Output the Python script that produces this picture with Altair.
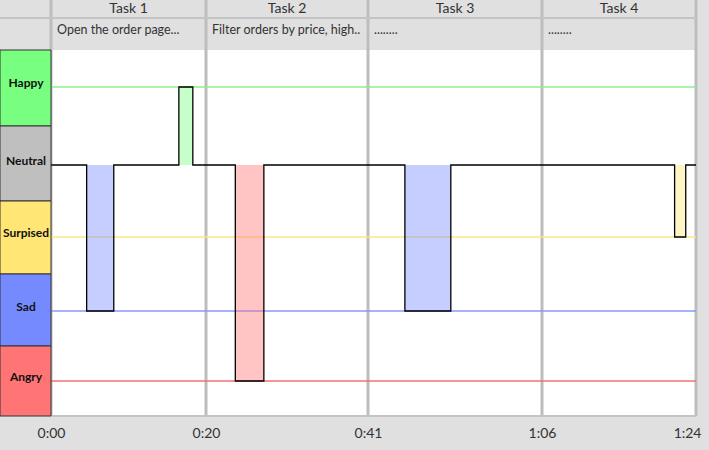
import altair as alt
import pandas as pd

# ---------------- data ----------------
task_names = ["Task 1", "Task 2", "Task 3", "Task 4"]
task_start = [0, 20, 41, 66]
task_end = [20, 41, 66, 84]
task_desc = ["Open the order page...", "Filter orders by price, high..", "........", "........"]

tick_seconds = [0, 20, 41, 66, 84]
tick_labels = ["0:00", "0:20", "0:41", "1:06", "1:24"]

emotions = ["Happy", "Neutral", "Surpised", "Sad", "Angry"]
emotion_level = [4, 3, 2, 1, 0]
emotion_color = ["#78ff80", "#bfbfbf", "#ffe675", "#758aff", "#ff7575"]
line_emotions = ["Happy", "Surpised", "Sad", "Angry"]
line_colors = ["#8ef08e", "#ffe680", "#8898ff", "#f07070"]

ep_emotion = ["Sad", "Happy", "Angry", "Sad", "Surpised"]
ep_start = [4.6, 16.5, 23.8, 46.3, 81.5]
ep_end = [8.1, 18.3, 27.5, 52.9, 82.8]

# ---------------- tables ----------------
lvl = dict(zip(emotions, emotion_level))
NEUTRAL = lvl["Neutral"]

tasks_df = pd.DataFrame({"task": task_names, "start": task_start, "end": task_end, "desc": task_desc})
tasks_df["mid"] = (tasks_df["start"] + tasks_df["end"]) / 2
bounds_df = pd.DataFrame({"t": tick_seconds})

emo_df = pd.DataFrame({"emotion": emotions, "level": emotion_level})
emo_df["lo"] = emo_df["level"] - 0.5
emo_df["hi"] = emo_df["level"] + 0.5

lines_df = pd.DataFrame({"emotion": line_emotions, "level": [lvl[e] for e in line_emotions],
                         "t0": tick_seconds[0], "t1": tick_seconds[-1]})

ep_df = pd.DataFrame({"emotion": ep_emotion, "start": ep_start, "end": ep_end})
ep_df["level"] = [lvl[e] for e in ep_emotion]
ep_df["base"] = NEUTRAL

pts = [(tick_seconds[0], NEUTRAL)]
for s, e, em in zip(ep_start, ep_end, ep_emotion):
    pts += [(s, NEUTRAL), (s, lvl[em]), (e, lvl[em]), (e, NEUTRAL)]
pts.append((tick_seconds[-1], NEUTRAL))
path_df = pd.DataFrame({"t": [p[0] for p in pts], "level": [p[1] for p in pts], "i": range(len(pts))})

# ---------------- scales ----------------
W, H = 645, 366
FONT = "Lato"
xscale = alt.Scale(domain=tick_seconds, range=[0, 155, 317, 491, 645])
yscale = alt.Scale(domain=[-0.5, 0, 1, 2, 3, 4, 4.5], range=[366, 331, 261, 187, 115, 37, 0])

label_expr = "".join(f"datum.value == {v} ? '{l}' : " for v, l in zip(tick_seconds, tick_labels)) + "''"
xaxis = alt.Axis(values=tick_seconds, labelExpr=label_expr, ticks=False, domain=False, grid=False,
                 labelFontSize=14, labelColor="#333333", labelPadding=10, labelFont=FONT, title=None,
                 labelAlign={"expr": f"datum.value == {tick_seconds[-1]} ? 'right' : 'center'"},
                 labelOffset={"expr": f"datum.value == {tick_seconds[-1]} ? 5 : 0"})


def X(f):
    return alt.X(f, type="quantitative", scale=xscale, axis=xaxis)


def Y(f):
    return alt.Y(f, type="quantitative", scale=yscale, axis=None)


fill_scale = alt.Scale(domain=emotions, range=emotion_color)

# ---------------- layers ----------------
separators = alt.Chart(bounds_df).mark_rule(color="#bdbdbd", strokeWidth=3).encode(
    x=X("t"), y=alt.value(-50), y2=alt.value(H))

header_line = alt.Chart(bounds_df.head(1)).mark_rule(color="#c4c4c4", strokeWidth=2).encode(
    x=alt.value(-51), x2=alt.value(W), y=alt.value(-32))

bottom_line = alt.Chart(bounds_df.head(1)).mark_rule(color="#c4c4c4", strokeWidth=2).encode(
    x=alt.value(0), x2=alt.value(W), y=alt.value(H))

level_lines = alt.Chart(lines_df).mark_rule(strokeWidth=1.6).encode(
    x=X("t0"), x2="t1", y=Y("level"),
    stroke=alt.Stroke("emotion:N", scale=alt.Scale(domain=line_emotions, range=line_colors), legend=None))

bars = alt.Chart(ep_df).mark_rect(fillOpacity=0.42).encode(
    x=X("start"), x2="end", y=Y("base"), y2="level",
    fill=alt.Fill("emotion:N", scale=fill_scale, legend=None))

path = alt.Chart(path_df).mark_line(color="black", strokeWidth=1.3).encode(
    x=X("t"), y=Y("level"), order=alt.Order("i:Q"))

column = alt.Chart(emo_df).mark_rect(stroke="#333333", strokeWidth=1).encode(
    x=alt.value(-51), x2=alt.value(0), y=Y("lo"), y2="hi",
    fill=alt.Fill("emotion:N", scale=fill_scale, legend=None))

column_labels = alt.Chart(emo_df).mark_text(font=FONT, fontSize=12, fontWeight="bold", color="#111111",
                                            align="center", baseline="middle", dy=-4).encode(
    x=alt.value(-25), y=Y("level"), text="emotion:N")

task_titles = alt.Chart(tasks_df).mark_text(font=FONT, fontSize=14, color="#333333",
                                            align="center", baseline="middle").encode(
    x=X("mid"), y=alt.value(-41), text="task:N")

task_descs = alt.Chart(tasks_df).mark_text(font=FONT, fontSize=12.5, color="#333333",
                                           align="left", baseline="middle", dx=6).encode(
    x=X("start"), y=alt.value(-20), text="desc:N")

chart = alt.layer(
    separators, header_line, bottom_line, level_lines, bars, path, column, column_labels,
    task_titles, task_descs
).properties(
    width=W, height=H,
    autosize=alt.AutoSizeParams(type="none"),
    padding={"left": 51, "top": 50, "right": 13, "bottom": 34},
).configure(background="#e0e0e0").configure_view(fill="white", stroke=None)

chart.save("out.html", embed_options={"renderer": "svg", "actions": False})
